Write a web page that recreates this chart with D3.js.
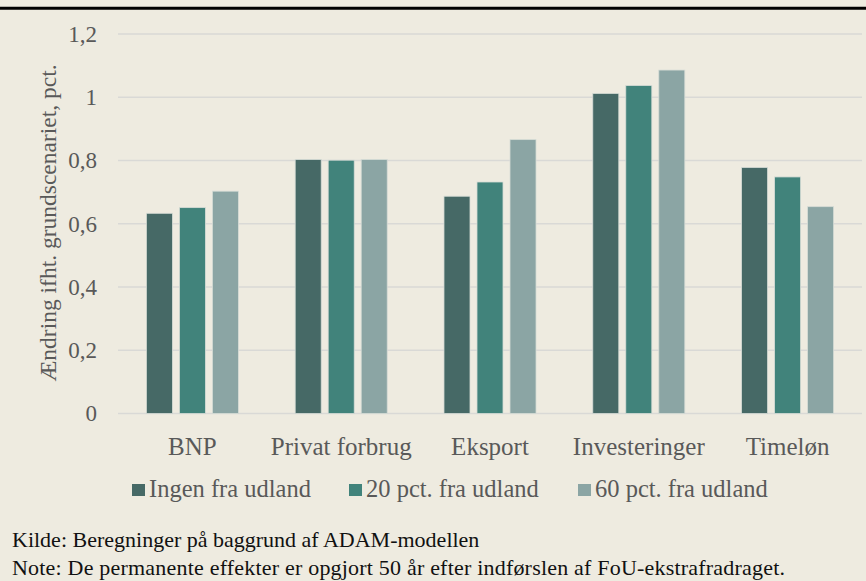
<!DOCTYPE html>
<html>
<head>
<meta charset="utf-8">
<script src="https://cdn.jsdelivr.net/npm/d3@7"></script>
<style>
  body { margin: 0; background: #eeebe0; }
  svg { display: block; font-family: "Liberation Serif", serif; }
</style>
</head>
<body>
<script>
const w = 866; // width
const h = 581; // height

// data
const categories = ["BNP", "Privat forbrug", "Eksport", "Investeringer", "Timeløn"];
const seriesNames = ["Ingen fra udland", "20 pct. fra udland", "60 pct. fra udland"];
const ingen = [0.633, 0.803, 0.687, 1.012, 0.778];
const pct20 = [0.651, 0.801, 0.732, 1.037, 0.748];
const pct60 = [0.703, 0.803, 0.866, 1.086, 0.654];
const yTicks = [0, 0.2, 0.4, 0.6, 0.8, 1, 1.2];
const colors = ["#466966", "#41837b", "#8ba5a4"];

const series = [ingen, pct20, pct60];
const rows = categories.map((c, i) => ({ cat: c, values: series.map(s => s[i]) }));

let svg = d3.select("body")
    .append("svg")
    .attr("width", w)
    .attr("height", h);

svg.append("rect")
    .attr("width", w)
    .attr("height", h)
    .attr("fill", "#eeebe0");

// thick rule at the top
svg.append("line")
    .attr("x1", 0).attr("x2", w)
    .attr("y1", 8.2).attr("y2", 8.2)
    .attr("stroke", "#000")
    .attr("stroke-width", 3);

// scales
let x0 = d3.scaleBand()
    .domain(categories)
    .range([118, 862]);

let x1 = d3.scaleBand()
    .domain(d3.range(3))
    .range([0, x0.bandwidth()])
    .paddingInner(0.212)
    .paddingOuter(0.86);

let y = d3.scaleLinear()
    .domain([0, 1.2])
    .range([413.5, 34]);

// grid lines
svg.append("g")
    .selectAll("line")
    .data(yTicks)
    .enter()
    .append("line")
    .attr("x1", 118).attr("x2", 862)
    .attr("y1", d => y(d)).attr("y2", d => y(d))
    .attr("stroke", "#d9d9d6")
    .attr("stroke-width", 1.5);

// y axis
let yAxis = svg.append("g")
    .attr("transform", "translate(118,0)")
    .call(d3.axisLeft(y).tickValues(yTicks).tickSize(0).tickPadding(21)
        .tickFormat(d => String(d).replace(".", ",")));
yAxis.select(".domain").remove();
yAxis.selectAll("text")
    .attr("font-family", "Liberation Serif")
    .attr("font-size", 23)
    .attr("fill", "#595959");

// y axis label
svg.append("text")
    .attr("text-anchor", "middle")
    .attr("transform", "translate(48,223) rotate(-90)")
    .attr("dy", "0.35em")
    .attr("font-size", 23.5)
    .attr("fill", "#595959")
    .text("Ændring ifht. grundscenariet, pct.");

// bars
let groups = svg.append("g")
    .selectAll("g")
    .data(rows)
    .enter()
    .append("g")
    .attr("transform", d => `translate(${x0(d.cat)},0)`);

groups.selectAll("rect")
    .data(d => d.values)
    .enter()
    .append("rect")
    .attr("x", (d, i) => x1(i))
    .attr("width", x1.bandwidth())
    .attr("y", d => y(d))
    .attr("height", d => y(0) - y(d))
    .attr("fill", (d, i) => colors[i])
    .attr("stroke", "#d6dcd6")
    .attr("stroke-width", 0.8);

// x axis labels
let xAxis = svg.append("g")
    .attr("transform", "translate(0,413.5)")
    .call(d3.axisBottom(x0).tickSize(0).tickPadding(24));
xAxis.select(".domain").remove();
xAxis.selectAll("text")
    .attr("font-family", "Liberation Serif")
    .attr("font-size", 25)
    .attr("fill", "#595959");

// legend
const legendX = [132, 349, 578];
let legend = svg.append("g")
    .selectAll("g")
    .data(seriesNames)
    .enter()
    .append("g")
    .attr("transform", (d, i) => `translate(${legendX[i]},484)`);

legend.append("rect")
    .attr("width", 13)
    .attr("height", 12)
    .attr("fill", (d, i) => colors[i]);

legend.append("text")
    .attr("x", 17)
    .attr("y", 13)
    .attr("font-size", 24.5)
    .attr("fill", "#595959")
    .text(d => d);

// source and note
svg.append("text")
    .attr("x", 12)
    .attr("y", 547)
    .attr("font-size", 22)
    .attr("fill", "#111")
    .text("Kilde: Beregninger på baggrund af ADAM-modellen");

svg.append("text")
    .attr("x", 12)
    .attr("y", 575)
    .attr("font-size", 22)
    .attr("textLength", 773)
    .attr("lengthAdjust", "spacing")
    .attr("fill", "#111")
    .text("Note: De permanente effekter er opgjort 50 år efter indførslen af FoU-ekstrafradraget.");
</script>
</body>
</html>
